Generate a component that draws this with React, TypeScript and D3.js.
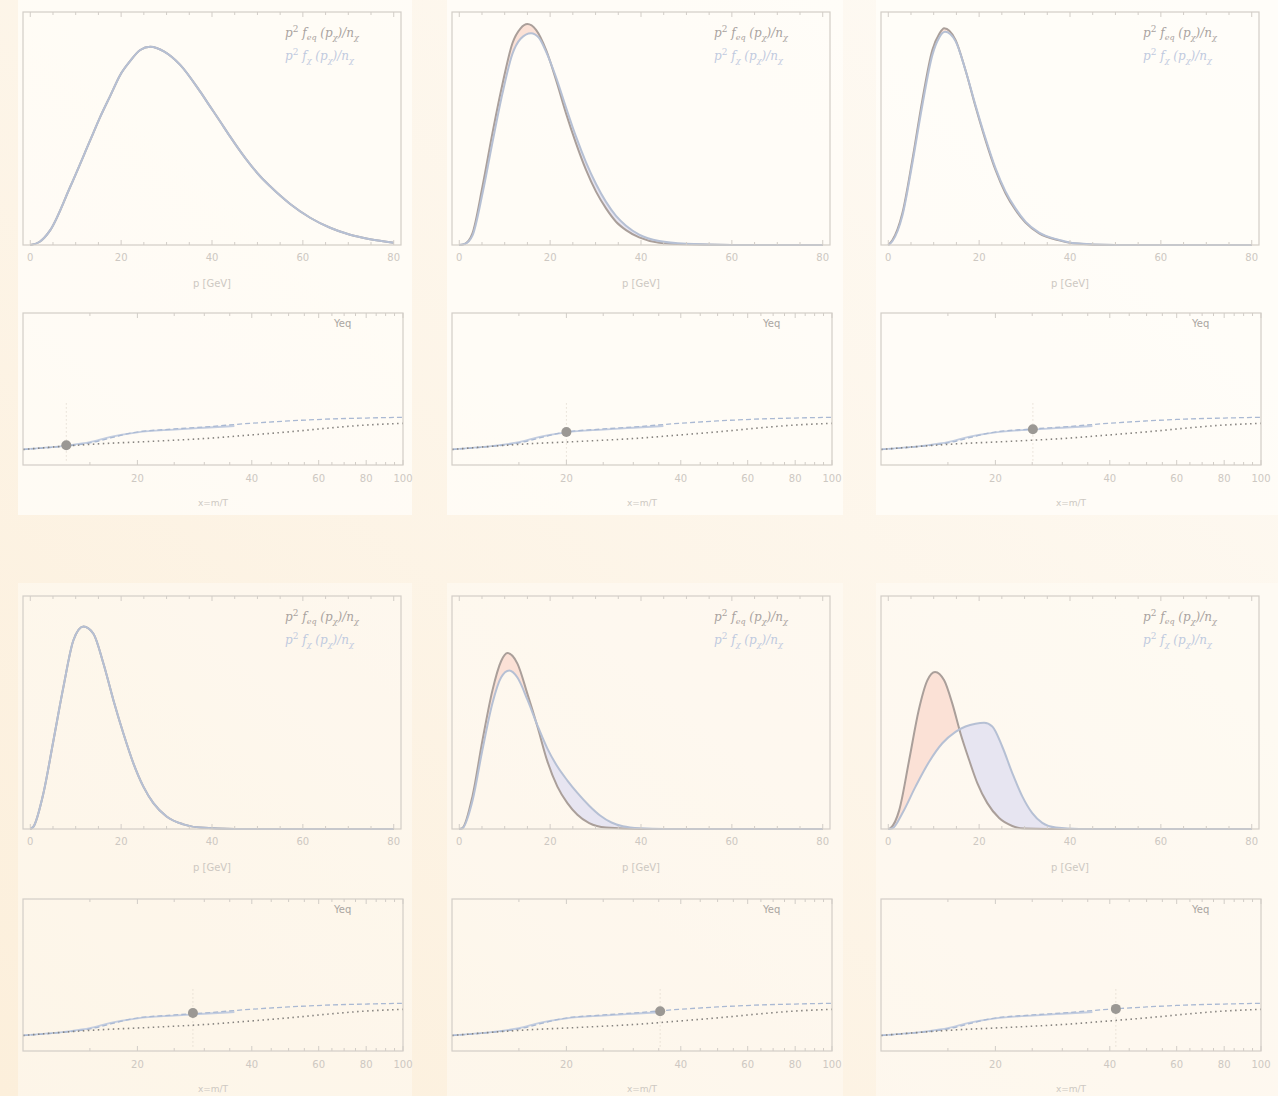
import React, { useEffect, useRef } from 'react'
import * as d3 from 'd3'

const W = 1278
const H = 1096

// tick labels
const pTicks = [0, 20, 40, 60, 80]
const xTicks = [20, 40, 60, 80, 100]

// momentum distributions, [p (GeV), p^2 f / n  (rel. units)]
const eqA: [number, number][] = [
  [0, 0], [2, 0.013], [4.4, 0.064], [8.8, 0.25], [13.2, 0.45], [15.4, 0.55], [17.6, 0.64],
  [19.8, 0.73], [22, 0.79], [24.2, 0.837], [26.4, 0.851], [29.5, 0.83], [33, 0.773],
  [37.4, 0.658], [39.6, 0.594], [41.8, 0.53], [44, 0.465], [46.2, 0.403], [48.4, 0.346],
  [50.6, 0.295], [52.8, 0.252], [55, 0.212], [57.2, 0.176], [61.6, 0.117], [66, 0.074],
  [70.4, 0.044], [74.8, 0.025], [80, 0.01],
]
const eqB: [number, number][] = [
  [0, 0], [1.2, 0.005], [2.9, 0.05], [5.1, 0.25], [7.3, 0.48], [9.5, 0.69], [11.7, 0.866],
  [13.5, 0.93], [15, 0.948], [16.9, 0.923], [19.1, 0.837], [21.3, 0.708], [23.5, 0.565],
  [25.7, 0.436], [27.9, 0.322], [30.1, 0.229], [32.3, 0.157], [34.5, 0.1], [36.7, 0.064],
  [39.6, 0.033], [44, 0.01], [50, 0.003], [60, 0], [80, 0],
]
const chiB: [number, number][] = [
  [0, 0], [1.2, 0.004], [2.9, 0.04], [5.1, 0.22], [7.3, 0.44], [9.5, 0.65], [11.7, 0.82],
  [13.5, 0.885], [15.8, 0.909], [17.5, 0.89], [19.1, 0.83], [21.3, 0.72], [23.5, 0.59],
  [25.7, 0.465], [27.9, 0.355], [30.1, 0.262], [32.3, 0.185], [34.5, 0.125], [36.7, 0.083],
  [39.6, 0.045], [44, 0.017], [50, 0.005], [60, 0], [80, 0],
]
const eqC: [number, number][] = [
  [0, 0], [0.9, 0.02], [3.1, 0.136], [5.3, 0.365], [7.5, 0.622], [9.7, 0.837], [11.2, 0.905],
  [12.3, 0.93], [14.8, 0.88], [17, 0.75], [19.2, 0.594], [21.4, 0.45], [23.6, 0.322],
  [25.8, 0.222], [28, 0.15], [30.2, 0.096], [33.2, 0.05], [37.6, 0.02], [40.5, 0.008],
  [50, 0], [80, 0],
]
const chiC: [number, number][] = [
  [0, 0], [0.9, 0.016], [3.1, 0.125], [5.3, 0.35], [7.5, 0.6], [9.7, 0.815], [11.2, 0.89],
  [12.5, 0.915], [14.8, 0.875], [17, 0.75], [19.2, 0.6], [21.4, 0.458], [23.6, 0.33],
  [25.8, 0.23], [28, 0.157], [30.2, 0.1], [33.2, 0.053], [37.6, 0.022], [40.5, 0.009],
  [50, 0], [80, 0],
]
const eqD: [number, number][] = [
  [0, 0], [0.7, 0.01], [2.9, 0.154], [5.1, 0.38], [7.3, 0.61], [9.5, 0.81], [11.7, 0.869],
  [13.9, 0.838], [16.1, 0.71], [18.3, 0.553], [20.5, 0.41], [22.7, 0.282], [24.9, 0.182],
  [27.1, 0.111], [30, 0.054], [33.7, 0.02], [37.4, 0.006], [45, 0], [80, 0],
]
const eqE: [number, number][] = [
  [0, 0], [0.7, 0.004], [2.9, 0.14], [5.1, 0.38], [7.3, 0.595], [9.2, 0.72], [10.6, 0.755],
  [12.8, 0.71], [15, 0.58], [17.2, 0.44], [19.4, 0.29], [21.6, 0.182], [23.8, 0.111],
  [26, 0.061], [28.6, 0.025], [32.3, 0.006], [40, 0], [80, 0],
]
const chiE: [number, number][] = [
  [0, 0], [0.7, 0.003], [2.9, 0.12], [5.1, 0.34], [7.3, 0.54], [9.2, 0.65], [11, 0.68],
  [12.8, 0.65], [15, 0.555], [17.2, 0.445], [19.4, 0.345], [21.6, 0.268], [23.8, 0.208],
  [26, 0.155], [28.6, 0.1], [31, 0.058], [33.5, 0.028], [36, 0.012], [40, 0.003], [45, 0], [80, 0],
]
const eqF: [number, number][] = [
  [0, 0], [0.5, 0.004], [2.4, 0.08], [4.6, 0.296], [6.7, 0.51], [8.6, 0.638], [10.3, 0.674],
  [12.3, 0.638], [14.1, 0.538], [15.9, 0.41], [17.8, 0.296], [19.6, 0.197], [21.8, 0.111],
  [24.4, 0.047], [27.3, 0.013], [30, 0.002], [35, 0], [80, 0],
]
const chiF: [number, number][] = [
  [0, 0], [0.9, 0.003], [3.1, 0.068], [6, 0.182], [9, 0.289], [11.9, 0.368], [14.8, 0.417],
  [17, 0.44], [19.2, 0.452], [21.1, 0.456], [22.9, 0.44], [25.1, 0.353], [27.3, 0.24],
  [29.5, 0.14], [31.7, 0.068], [33.9, 0.026], [36.9, 0.006], [42, 0], [80, 0],
]

// yield evolution vs x = m/T (lower panels)
const yDashed: [number, number][] = [
  [10, 0.103], [13, 0.125], [15, 0.145], [17, 0.178], [19.5, 0.213], [25, 0.237], [30, 0.25],
  [39.5, 0.274], [50, 0.29], [65, 0.303], [80, 0.309], [100, 0.314],
]
const yDotted: [number, number][] = [
  [10, 0.102], [13, 0.125], [16, 0.14], [19.5, 0.15], [25, 0.163], [30, 0.174],
  [39.5, 0.197], [50, 0.218], [65, 0.245], [80, 0.263], [100, 0.274],
]
const ySolid: [number, number][] = [
  [10, 0.103], [13, 0.128], [15, 0.15], [17, 0.185], [20, 0.215], [25, 0.233], [30, 0.245], [36, 0.256],
]
const dotX = [13.0, 20.0, 25.1, 28.0, 35.3, 41.5]
const dotY = [0.13, 0.217, 0.235, 0.25, 0.262, 0.277]

const distPanels = [
  { eq: eqA, chi: eqA },
  { eq: eqB, chi: chiB },
  { eq: eqC, chi: chiC },
  { eq: eqD, chi: eqD },
  { eq: eqE, chi: chiE },
  { eq: eqF, chi: chiF },
]

const tickFont = 'DejaVu Sans, sans-serif'
const frameColor = '#d2cdc7'
const tickTextColor = '#cdc8c2'

function App() {
  const ref = useRef<SVGSVGElement>(null)

  useEffect(() => {
    const svg = d3.select(ref.current)
    svg.selectAll('*').remove()

    const defs = svg.append('defs')
    const grad = defs.append('linearGradient').attr('id', 'bg')
      .attr('x1', '1').attr('y1', '0').attr('x2', '0').attr('y2', '1')
    grad.append('stop').attr('offset', '0').attr('stop-color', '#fefbf6')
    grad.append('stop').attr('offset', '1').attr('stop-color', '#fcefdb')

    svg.append('rect').attr('width', W).attr('height', H).attr('fill', 'url(#bg)')

    // lighter column blocks
    const colX = [[18, 412], [447, 843], [876, 1278]]
    const rowY = [[0, 515], [583, 1096]]
    rowY.forEach(([y0, y1], r) => {
      colX.forEach(([x0, x1]) => {
        svg.append('rect').attr('x', x0).attr('y', y0).attr('width', x1 - x0).attr('height', y1 - y0)
          .attr('fill', '#fffdf9').attr('opacity', r === 0 ? 0.75 : 0.45)
      })
    })

    // ---- distribution panels
    distPanels.forEach((d, i) => {
      const col = i % 3, row = Math.floor(i / 3)
      const left = 23 + col * 429
      const top = row === 0 ? 12 : 596
      const w = 378, h = 233
      const x = d3.scaleLinear().domain([-1.6, 81.6]).range([left, left + w])
      const y = d3.scaleLinear().domain([0, 1]).range([top + h, top])
      const g = svg.append('g')

      const line = d3.line<[number, number]>().x(p => x(p[0])).y(p => y(p[1])).curve(d3.curveMonotoneX)
      const under = d3.area<[number, number]>().x(p => x(p[0])).y0(y(0)).y1(p => y(p[1])).curve(d3.curveMonotoneX)
      const above = d3.area<[number, number]>().x(p => x(p[0])).y0(top - 5).y1(p => y(p[1])).curve(d3.curveMonotoneX)

      defs.append('clipPath').attr('id', `aboveChi${i}`).append('path').attr('d', above(d.chi) as string)
      defs.append('clipPath').attr('id', `aboveEq${i}`).append('path').attr('d', above(d.eq) as string)

      if (d.eq !== d.chi) {
        g.append('path').attr('d', under(d.eq) as string).attr('fill', '#fbe1d6')
          .attr('clip-path', `url(#aboveChi${i})`)
        g.append('path').attr('d', under(d.chi) as string).attr('fill', '#e7e5f1')
          .attr('clip-path', `url(#aboveEq${i})`)
      }

      g.append('path').attr('d', line(d.eq) as string).attr('fill', 'none')
        .attr('stroke', '#aa9f9a').attr('stroke-width', 2)
      g.append('path').attr('d', line(d.chi) as string).attr('fill', 'none')
        .attr('stroke', '#b6c0d4').attr('stroke-width', 2)

      // frame + ticks
      g.append('rect').attr('x', left).attr('y', top).attr('width', w).attr('height', h)
        .attr('fill', 'none').attr('stroke', frameColor).attr('stroke-width', 1.2)
      d3.range(0, 81, 5).forEach(t => {
        const len = t % 20 === 0 ? 5 : 3
        g.append('line').attr('x1', x(t)).attr('x2', x(t)).attr('y1', top + h).attr('y2', top + h - len)
          .attr('stroke', frameColor)
        g.append('line').attr('x1', x(t)).attr('x2', x(t)).attr('y1', top).attr('y2', top + len)
          .attr('stroke', frameColor)
      })
      pTicks.forEach(t => {
        g.append('text').attr('x', x(t)).attr('y', top + h + 16).attr('text-anchor', 'middle')
          .attr('font-family', tickFont).attr('font-size', 10).attr('fill', tickTextColor).text(String(t))
      })
      g.append('text').attr('x', left + w / 2).attr('y', top + h + 42).attr('text-anchor', 'middle')
        .attr('font-family', tickFont).attr('font-size', 10).attr('fill', tickTextColor).text('p [GeV]')

      // legend
      const legend = (yy: number, color: string, sub: string) => {
        const t = g.append('text').attr('x', left + 262).attr('y', yy)
          .attr('font-family', 'DejaVu Serif, serif').attr('font-style', 'italic')
          .attr('font-size', 12).attr('fill', color)
        t.append('tspan').text('p')
        t.append('tspan').attr('dy', -5).attr('font-size', 9).attr('font-style', 'normal').text('2')
        t.append('tspan').attr('dy', 5).text(' f')
        t.append('tspan').attr('dy', 3).attr('font-size', 8).text(sub)
        t.append('tspan').attr('dy', -3).text(' (p')
        t.append('tspan').attr('dy', 3).attr('font-size', 8).text('χ')
        t.append('tspan').attr('dy', -3).text(')/n')
        t.append('tspan').attr('dy', 3).attr('font-size', 8).text('χ')
      }
      legend(top + 25, '#a9a3a0', 'eq')
      legend(top + 48, '#bfcadf', 'χ')
    })

    // ---- yield panels
    dotX.forEach((dx, i) => {
      const col = i % 3, row = Math.floor(i / 3)
      const left = 23 + col * 429
      const top = row === 0 ? 313 : 899
      const w = 380, h = 152
      const x = d3.scaleLog().domain([10, 100]).range([left, left + w])
      const y = d3.scaleLinear().domain([0, 1]).range([top + h, top])
      const g = svg.append('g')
      const line = d3.line<[number, number]>().x(p => x(p[0])).y(p => y(p[1])).curve(d3.curveMonotoneX)

      g.append('line').attr('x1', x(dx)).attr('x2', x(dx)).attr('y1', y(0.03)).attr('y2', y(0.41))
        .attr('stroke', '#d9d0c4').attr('stroke-width', 1).attr('stroke-dasharray', '1,3')

      g.append('path').attr('d', line(ySolid) as string).attr('fill', 'none')
        .attr('stroke', '#c3cde0').attr('stroke-width', 1.8)
      g.append('path').attr('d', line(yDashed) as string).attr('fill', 'none')
        .attr('stroke', '#aab9d3').attr('stroke-width', 1.3).attr('stroke-dasharray', '5,3')
      g.append('path').attr('d', line(yDotted) as string).attr('fill', 'none')
        .attr('stroke', '#86837f').attr('stroke-width', 1.6).attr('stroke-dasharray', '1.5,3.5')

      g.append('circle').attr('cx', x(dx)).attr('cy', y(dotY[i])).attr('r', 5).attr('fill', '#9b9894')

      g.append('rect').attr('x', left).attr('y', top).attr('width', w).attr('height', h)
        .attr('fill', 'none').attr('stroke', frameColor).attr('stroke-width', 1.2)
      d3.range(15, 101, 5).forEach(t => {
        const len = t % 20 === 0 ? 5 : 3
        g.append('line').attr('x1', x(t)).attr('x2', x(t)).attr('y1', top + h).attr('y2', top + h - len)
          .attr('stroke', frameColor)
        g.append('line').attr('x1', x(t)).attr('x2', x(t)).attr('y1', top).attr('y2', top + len)
          .attr('stroke', frameColor)
      })
      xTicks.forEach(t => {
        g.append('text').attr('x', x(t)).attr('y', top + h + 17).attr('text-anchor', 'middle')
          .attr('font-family', tickFont).attr('font-size', 10).attr('fill', tickTextColor).text(String(t))
      })
      g.append('text').attr('x', left + w / 2).attr('y', top + h + 41).attr('text-anchor', 'middle')
        .attr('font-family', tickFont).attr('font-size', 9).attr('fill', tickTextColor).text('x=m/T')
      g.append('text').attr('x', left + 311).attr('y', top + 14)
        .attr('font-family', tickFont).attr('font-size', 10).attr('fill', '#aaa6a2').text('Yeq')
    })
  }, [])

  return (
    <div style={{ position: 'absolute', left: 0, top: 0 }}>
      <svg ref={ref} width={W} height={H} />
    </div>
  )
}

export default App
